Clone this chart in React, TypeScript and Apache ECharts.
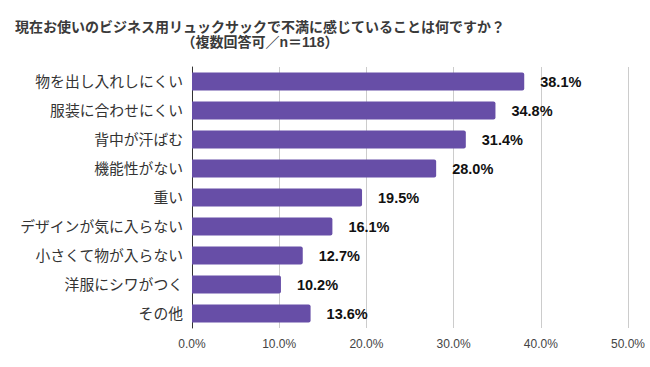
import React, { useEffect, useRef } from "react";
import * as echarts from "echarts";

const categories = [
  "物を出し入れしにくい",
  "服装に合わせにくい",
  "背中が汗ばむ",
  "機能性がない",
  "重い",
  "デザインが気に入らない",
  "小さくて物が入らない",
  "洋服にシワがつく",
  "その他",
];
const values = [38.1, 34.8, 31.4, 28.0, 19.5, 16.1, 12.7, 10.2, 13.6];
const titleLines = [
  "現在お使いのビジネス用リュックサックで不満に感じていることは何ですか？",
  "（複数回答可／n＝118）",
];

const FONT = 'Arial, "Liberation Sans", "Noto Sans CJK JP", sans-serif';

export default function App() {
  const ref = useRef<HTMLDivElement>(null);
  useEffect(() => {
    if (!ref.current) return;
    const chart = echarts.init(ref.current, undefined, { renderer: "svg" });
    chart.setOption({
      animation: false,
      backgroundColor: "#ffffff",
      graphic: [
        {
          type: "text",
          x: 260,
          y: 27,
          style: {
            text: titleLines[0],
            fontFamily: FONT,
            fontSize: 14,
            fontWeight: "bold",
            fill: "#3a3a3a",
            textAlign: "center",
            textVerticalAlign: "middle",
          },
        },
        {
          type: "text",
          x: 260,
          y: 42,
          style: {
            text: titleLines[1],
            fontFamily: FONT,
            fontSize: 14,
            fontWeight: "bold",
            fill: "#3a3a3a",
            textAlign: "center",
            textVerticalAlign: "middle",
          },
        },
      ],
      grid: { left: 192, width: 436, top: 67, height: 261, containLabel: false },
      xAxis: {
        type: "value",
        min: 0,
        max: 50,
        interval: 10,
        axisLine: { show: false },
        axisTick: { show: false },
        splitLine: { show: true, lineStyle: { color: "#cccccc", width: 1 } },
        axisLabel: {
          formatter: (v: number) => v.toFixed(1) + "%",
          fontFamily: FONT,
          fontSize: 12,
          color: "#444444",
          margin: 10,
        },
      },
      yAxis: {
        type: "category",
        data: categories,
        inverse: true,
        axisLine: { show: true, lineStyle: { color: "#333333", width: 1 } },
        axisTick: { show: false },
        axisLabel: {
          fontFamily: FONT,
          fontSize: 14.8,
          color: "#333333",
          margin: 9,
        },
      },
      series: [
        {
          type: "bar",
          data: values,
          barWidth: 18,
          itemStyle: { color: "#674ea7", borderRadius: [0, 2, 2, 0] },
          label: {
            show: true,
            position: "right",
            distance: 16,
            formatter: (p: any) => p.value.toFixed(1) + "%",
            fontFamily: FONT,
            fontSize: 14.5,
            fontWeight: "bold",
            color: "#111111",
          },
        },
      ],
    });
    return () => chart.dispose();
  }, []);
  return (
    <div
      ref={ref}
      style={{ position: "fixed", left: 0, top: 0, width: 650, height: 367 }}
    />
  );
}
